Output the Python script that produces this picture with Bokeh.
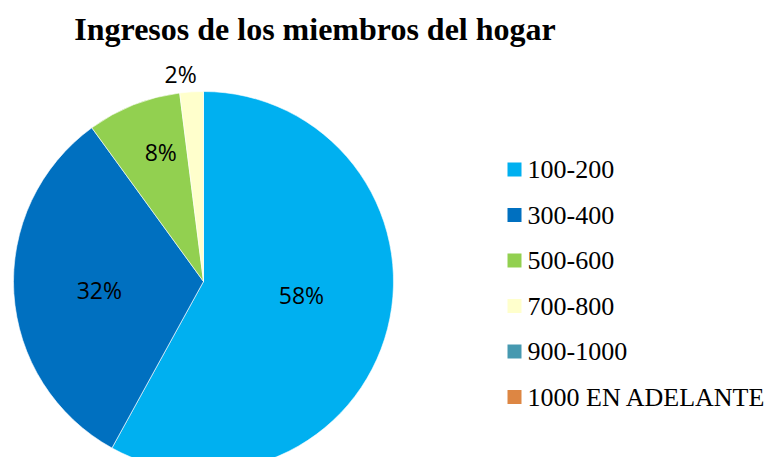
import math
from bokeh.plotting import figure
from bokeh.models import Range1d, ColumnDataSource
from bokeh.core.properties import value
from bokeh.embed import file_html
from bokeh.resources import INLINE

# ---- data ----
categories = ["100-200", "300-400", "500-600", "700-800", "900-1000", "1000 EN ADELANTE"]
percents = [58, 32, 8, 2, 0, 0]
colors = ["#00b0f0", "#0070c0", "#92d050", "#ffffcc", "#4699b0", "#dd8643"]
title_text = "Ingresos de los miembros del hogar"

# ---- layout (screen px) ----
W, H = 765, 457
def sy(y):  # screen y -> data y
    return H - y

cx, cy, R = 203, 281, 190
label_dist = [0.52, 0.55, 0.72, 1.10, 0.5, 0.5]
label_shift = [-6.8, -0.8, 3.4, -2.7, 0, 0]

p = figure(width=W, height=H, output_backend="svg", toolbar_location=None,
           x_range=Range1d(0, W), y_range=Range1d(0, H),
           min_border=0, outline_line_color=None, background_fill_color="white",
           border_fill_color="white")
p.axis.visible = False
p.grid.visible = False

total = sum(percents)
starts, ends, cols, lx, ly, lt = [], [], [], [], [], []
cum = 0.0
for i, v in enumerate(percents):
    f0 = cum / total
    cum += v
    f1 = cum / total
    if v <= 0:
        continue
    starts.append(math.pi / 2 - f0 * 2 * math.pi)
    ends.append(math.pi / 2 - f1 * 2 * math.pi)
    cols.append(colors[i])
    mid = ((f0 + f1) / 2) * 360 + label_shift[i]
    d = R * label_dist[i]
    lx.append(cx + d * math.sin(math.radians(mid)))
    ly.append(sy(cy - d * math.cos(math.radians(mid))))
    lt.append(f"{v}%")

src = ColumnDataSource(dict(s=starts, e=ends, c=cols))
p.wedge(x=cx, y=sy(cy), radius=R, start_angle="s", end_angle="e", direction="clock",
        fill_color="c", line_color="white", line_width=0.6, source=src)

p.text(x=lx, y=ly, text=lt, text_align="center", text_baseline="middle",
       text_font=value("Open Sans"), text_font_size="23px", text_color="#000000")

# legend
leg_x, leg_y0, leg_dy = 514, 169, 45.5
ly_s = [sy(leg_y0 + i * leg_dy) for i in range(len(categories))]
p.scatter(x=[leg_x] * len(categories), y=ly_s, marker="square", size=14,
          fill_color=colors, line_color=None)
p.text(x=[leg_x + 13] * len(categories), y=ly_s, text=categories,
       text_align="left", text_baseline="middle",
       text_font=value("Liberation Serif"), text_font_size="26px", text_color="#000000")

# title
p.text(x=[314.5], y=[sy(28)], text=[title_text], text_align="center",
       text_baseline="middle", text_font=value("Liberation Serif"),
       text_font_style="bold", text_font_size="32px", text_color="#000000")

open("out.html", "w").write(file_html(p, INLINE))
